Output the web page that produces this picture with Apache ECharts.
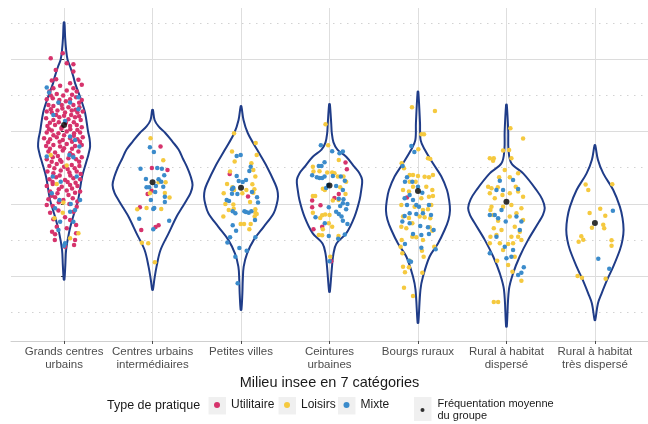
<!DOCTYPE html>
<html><head><meta charset="utf-8">
<script src="https://cdn.jsdelivr.net/npm/echarts@6/dist/echarts.min.js"></script>
<style>html,body{margin:0;padding:0;background:#fff}#c{width:648px;height:424px}</style>
</head><body><div id="c"></div>
<script>
// ---- data ----
const categories = ['Grands centres urbains','Centres urbains intermédiaires','Petites villes','Ceintures urbaines','Bourgs ruraux','Rural à habitat dispersé','Rural à habitat très dispersé'];
const tickLabels = ['Grands centres\nurbains','Centres urbains\nintermédiaires','Petites villes','Ceintures\nurbaines','Bourgs ruraux','Rural à habitat\ndispersé','Rural à habitat\ntrès dispersé'];
const majorY = [1,2,3,4];
const minorY = [0.5,1.5,2.5,3.5,4.5];
const groupMeans = [3.091,2.298,2.223,2.251,2.177,2.029,1.734];

// violin outlines: [value, half width in category units]
const violin_g1 = [[4.51,0.004],[4.30,0.012],[4.13,0.023],[3.99,0.04],[3.90,0.068],[3.76,0.105],[3.67,0.124],[3.44,0.192],[3.26,0.237],[3.00,0.271],[2.90,0.288],[2.79,0.294],[2.68,0.275],[2.57,0.249],[2.37,0.203],[2.05,0.158],[1.82,0.102],[1.60,0.056],[1.36,0.023],[1.15,0.014],[0.95,0.004]];
const violin_g2 = [[3.30,0.004],[3.16,0.023],[3.07,0.068],[2.98,0.144],[2.86,0.225],[2.75,0.294],[2.62,0.345],[2.51,0.389],[2.38,0.43],[2.26,0.452],[2.15,0.43],[2.05,0.384],[1.94,0.33],[1.82,0.271],[1.59,0.181],[1.36,0.090],[1.13,0.045],[0.95,0.02],[0.81,0.004]];
const violin_g3 = [[3.35,0.004],[3.16,0.028],[2.98,0.076],[2.75,0.181],[2.51,0.294],[2.28,0.384],[2.19,0.41],[2.10,0.418],[2.00,0.405],[1.87,0.369],[1.68,0.256],[1.50,0.144],[1.31,0.068],[1.13,0.03],[0.95,0.02],[0.75,0.015],[0.53,0.004]];
const violin_g4 = [[3.38,0.004],[3.10,0.02],[2.98,0.026],[2.85,0.045],[2.75,0.09],[2.65,0.189],[2.51,0.282],[2.42,0.34],[2.33,0.369],[2.20,0.36],[2.05,0.339],[1.82,0.282],[1.59,0.189],[1.45,0.079],[1.31,0.045],[1.13,0.028],[0.78,0.004]];
const violin_g5 = [[3.55,0.004],[3.12,0.023],[2.88,0.03],[2.75,0.076],[2.56,0.169],[2.38,0.263],[2.19,0.328],[2.05,0.352],[1.91,0.362],[1.78,0.345],[1.64,0.302],[1.45,0.226],[1.27,0.132],[0.99,0.056],[0.81,0.028],[0.35,0.004]];
const violin_g6 = [[3.37,0.004],[3.00,0.02],[2.75,0.023],[2.56,0.056],[2.42,0.189],[2.19,0.339],[2.06,0.405],[1.94,0.433],[1.84,0.41],[1.73,0.358],[1.50,0.245],[1.27,0.150],[1.04,0.076],[0.81,0.028],[0.30,0.004]];
const violin_g7 = [[2.81,0.004],[2.61,0.034],[2.42,0.094],[2.19,0.207],[1.96,0.282],[1.80,0.312],[1.64,0.324],[1.50,0.312],[1.36,0.282],[1.13,0.207],[0.95,0.139],[0.76,0.076],[0.62,0.034],[0.39,0.004]];
const violins = [violin_g1,violin_g2,violin_g3,violin_g4,violin_g5,violin_g6,violin_g7];

// jittered observations: [group, jitter, value]
const utilitaire = [
[0,-0.015,4.084],[0,-0.151,4.015],[0,0.030,3.946],[0,0.105,3.932],[0,-0.094,3.853],[0,0.105,3.830],
[0,-0.139,3.705],[0,-0.090,3.724],[0,0.162,3.715],[0,0.068,3.669],[0,-0.121,3.599],[0,-0.045,3.632],[0,0.105,3.599],[0,0.200,3.646],
[0,-0.166,3.553],[0,0.030,3.567],[0,0.143,3.553],[0,-0.083,3.521],[0,-0.196,3.447],[0,-0.128,3.461],[0,-0.053,3.438],[0,0.068,3.447],[0,0.136,3.475],[0,0.200,3.438],
[0,-0.177,3.368],[0,-0.121,3.355],[0,-0.026,3.368],[0,0.049,3.336],[0,0.105,3.368],[0,0.173,3.336],
[0,-0.196,3.276],[0,-0.139,3.262],[0,-0.075,3.290],[0,0.011,3.262],[0,0.087,3.290],[0,0.151,3.262],[0,0.211,3.276],
[0,-0.203,3.184],[0,-0.121,3.161],[0,-0.053,3.198],[0,0.049,3.170],[0,0.124,3.198],[0,0.188,3.161],
[0,-0.188,3.077],[0,-0.102,3.091],[0,-0.026,3.059],[0,0.068,3.077],[0,0.143,3.091],[0,0.200,3.059],
[0,-0.196,2.985],[0,-0.139,3.013],[0,-0.064,2.976],[0,0.030,2.999],[0,0.113,2.976],[0,0.181,2.985],
[0,-0.226,2.907],[0,-0.158,2.893],[0,-0.083,2.921],[0,-0.015,2.884],[0,0.068,2.907],[0,0.151,2.893],[0,0.211,2.921],
[0,-0.203,2.800],[0,-0.121,2.814],[0,-0.045,2.791],[0,0.030,2.828],[0,0.124,2.800],[0,0.200,2.814],
[0,-0.177,2.722],[0,-0.102,2.708],[0,-0.015,2.736],[0,0.068,2.699],[0,0.162,2.722],
[0,-0.196,2.616],[0,-0.128,2.643],[0,-0.045,2.607],[0,0.049,2.630],[0,0.136,2.616],[0,0.200,2.643],
[0,-0.166,2.524],[0,-0.083,2.551],[0,0.000,2.514],[0,0.087,2.537],[0,0.173,2.524],
[0,-0.188,2.445],[0,-0.121,2.422],[0,-0.038,2.459],[0,0.060,2.431],[0,0.143,2.445],[0,0.188,2.413],
[0,-0.166,2.339],[0,-0.090,2.367],[0,0.011,2.330],[0,0.105,2.353],[0,0.181,2.339],
[0,-0.196,2.246],[0,-0.128,2.274],[0,-0.026,2.237],[0,0.068,2.260],[0,0.151,2.246],
[0,-0.158,2.168],[0,-0.075,2.145],[0,0.030,2.182],[0,0.124,2.154],[0,0.181,2.168],
[0,-0.177,2.062],[0,-0.102,2.090],[0,-0.008,2.053],[0,0.098,2.076],
[0,-0.196,1.983],[0,-0.128,1.970],[0,0.060,1.997],[0,0.143,1.960],
[0,-0.158,1.877],[0,-0.064,1.905],[0,0.105,1.891],[0,-0.121,1.785],[0,0.011,1.813],[0,0.068,1.776],
[0,-0.083,1.683],[0,0.030,1.660],[0,0.136,1.706],[0,-0.136,1.614],[0,0.136,1.591],[0,-0.102,1.577],
[0,-0.105,1.499],[0,0.124,1.499],[0,0.011,1.406],[0,0.113,1.429],
[0,-0.150,3.500],[0,-0.010,3.500],[0,0.090,3.510],[0,0.170,3.400],[0,-0.060,3.400],[0,0.020,3.420],[0,-0.150,3.310],[0,-0.020,3.320],[0,0.130,3.300],
[0,-0.090,3.230],[0,0.000,3.220],[0,0.080,3.230],[0,0.170,3.210],[0,-0.160,3.120],[0,-0.060,3.130],[0,0.020,3.120],[0,0.110,3.130],
[0,-0.170,3.030],[0,-0.030,3.040],[0,0.070,3.030],[0,0.150,3.020],[0,-0.120,2.950],[0,0.000,2.950],[0,0.110,2.940],
[0,-0.180,2.850],[0,-0.050,2.860],[0,0.090,2.860],[0,0.180,2.860],[0,-0.160,2.760],[0,0.000,2.770],[0,0.090,2.760],
[0,-0.070,2.660],[0,0.100,2.670],[0,0.170,2.580],[0,-0.140,2.580],[0,-0.030,2.580],[0,0.040,2.480],[0,-0.110,2.490],[0,0.120,2.490],
[0,-0.050,2.390],[0,0.070,2.390],[0,-0.130,2.300],[0,0.040,2.300],[0,0.130,2.290],[0,-0.060,2.200],[0,0.090,2.210],
[0,-0.140,2.110],[0,0.050,2.120],[0,0.150,2.030],[0,-0.060,2.020],
[1,0.090,2.791],[1,-0.008,2.496],[1,0.169,2.468],[1,-0.011,2.181],[1,-0.056,2.136],[1,-0.143,1.951],[1,-0.128,1.637],[1,0.034,1.679],[1,0.068,1.702],
[2,-0.128,2.413],[2,0.079,2.099],
[3,0.181,2.570],[3,0.196,2.477],[3,0.056,2.080],[3,-0.196,2.044],[3,-0.196,1.951],[3,-0.102,1.979],[3,0.105,2.136],[3,-0.083,1.683],[3,-0.181,1.646],[3,0.019,1.203],
[4,-0.124,2.085]
];
const loisirs = [
[0,-0.151,2.676],[0,0.030,2.528],[0,-0.083,2.274],[0,-0.008,2.016],[0,-0.109,1.799],[0,0.068,1.522],[0,0.162,1.591],[0,-0.015,1.877],
[1,-0.023,2.907],[1,0.121,2.602],[1,0.147,2.298],[1,0.068,2.298],[1,0.139,2.150],[1,0.192,2.085],[1,-0.173,1.923],[1,-0.068,1.942],[1,0.098,1.928],[1,-0.121,1.461],[1,-0.049,1.453],[1,0.026,1.190],[1,-0.030,2.145],
[2,-0.079,2.976],[2,0.166,2.842],[2,0.177,2.676],[2,-0.102,2.722],[2,0.117,2.561],[2,-0.072,2.584],[2,0.139,2.468],[2,0.162,2.376],[2,-0.124,2.445],[2,-0.158,2.274],[2,0.128,2.270],
[2,-0.196,2.145],[2,-0.098,2.228],[2,-0.079,2.191],[2,0.015,2.145],[2,0.060,2.191],[2,0.151,2.200],[2,0.139,2.154],[2,-0.177,1.997],[2,-0.087,1.988],[2,0.102,2.025],
[2,-0.139,1.914],[2,-0.083,1.932],[2,0.162,1.923],[2,0.177,1.859],[2,-0.200,1.822],[2,0.154,1.822],[2,-0.004,1.720],[2,0.034,1.720],[2,0.109,1.720],[2,0.094,1.646],[2,0.162,1.877],
[3,-0.045,3.101],[3,-0.015,2.810],[3,0.105,2.607],[3,-0.188,2.514],[3,-0.181,2.445],[3,-0.113,2.450],[3,-0.026,2.431],[3,0.030,2.431],[3,0.056,2.422],[3,0.094,2.376],[3,0.158,2.376],
[3,0.188,2.306],[3,0.121,2.228],[3,-0.075,2.209],[3,-0.053,2.191],[3,0.181,2.136],[3,-0.188,2.108],[3,-0.162,2.108],[3,0.102,2.053],[3,0.038,2.044],[3,-0.188,1.877],
[3,-0.083,1.840],[3,-0.049,1.850],[3,0.000,1.845],[3,-0.105,1.803],[3,-0.008,1.730],[3,0.030,1.683],[3,-0.075,1.646],[3,-0.121,1.568],[3,-0.083,1.564],[3,0.102,1.554],[3,0.008,1.267],
[4,-0.068,3.336],[4,0.192,3.285],[4,0.038,2.962],[4,0.068,2.962],[4,0.004,2.754],[4,0.113,2.630],[4,0.139,2.620],[4,-0.184,2.561],[4,-0.158,2.491],[4,-0.094,2.399],[4,-0.056,2.399],
[4,0.000,2.385],[4,0.075,2.375],[4,0.124,2.367],[4,0.169,2.399],[4,-0.094,2.306],[4,-0.026,2.306],[4,-0.056,2.237],[4,0.094,2.237],[4,0.162,2.191],[4,-0.169,2.191],[4,-0.102,2.168],
[4,0.169,2.108],[4,0.124,2.098],[4,0.038,2.076],[4,-0.188,1.983],[4,-0.038,1.960],[4,0.151,1.983],[4,0.056,1.914],[4,0.113,1.924],[4,-0.169,1.822],[4,-0.102,1.803],[4,0.019,1.822],
[4,0.075,1.813],[4,0.139,1.799],[4,-0.064,1.730],[4,-0.188,1.683],[4,-0.132,1.660],[4,0.132,1.674],[4,0.162,1.628],[4,-0.064,1.544],[4,-0.019,1.535],[4,-0.184,1.499],[4,-0.196,1.406],
[4,0.056,1.499],[4,0.045,1.350],[4,0.184,1.406],[4,-0.177,1.314],[4,0.064,1.267],[4,-0.094,1.212],[4,-0.169,1.129],[4,-0.102,1.120],[4,-0.147,1.051],[4,0.049,1.046],[4,-0.158,0.838],[4,-0.056,0.723],
[5,0.045,3.046],[5,0.188,2.902],[5,-0.188,2.630],[5,-0.143,2.630],[5,-0.151,2.597],[5,-0.038,2.736],[5,0.030,2.745],[5,0.056,2.630],[5,-0.019,2.468],[5,-0.083,2.367],[5,0.038,2.367],
[5,0.132,2.422],[5,-0.207,2.237],[5,-0.169,2.215],[5,-0.098,2.228],[5,0.105,2.237],[5,-0.188,2.145],[5,-0.132,2.076],[5,-0.045,2.122],[5,0.132,2.168],[5,0.038,2.145],[5,0.188,2.098],
[5,-0.169,1.960],[5,-0.038,1.960],[5,0.056,1.983],[5,0.169,1.937],[5,-0.151,1.845],[5,-0.094,1.766],[5,0.038,1.822],[5,0.113,1.868],[5,0.188,1.776],[5,-0.143,1.660],[5,-0.056,1.637],
[5,0.094,1.683],[5,0.151,1.614],[5,-0.181,1.544],[5,-0.113,1.568],[5,0.056,1.544],[5,0.132,1.544],[5,0.169,1.499],[5,-0.188,1.453],[5,-0.075,1.453],[5,0.019,1.443],[5,0.075,1.453],
[5,-0.038,1.360],[5,-0.105,1.212],[5,0.094,1.267],[5,0.019,1.152],[5,0.068,1.060],[5,0.169,0.935],[5,-0.143,0.640],[5,-0.094,0.640],[5,-0.181,1.914],
[6,-0.105,2.265],[6,-0.075,2.191],[6,0.196,2.270],[6,-0.060,1.873],[6,0.060,1.932],[6,0.117,1.835],[6,0.094,1.711],[6,0.105,1.661],[6,-0.034,1.669],[6,-0.154,1.550],[6,-0.132,1.503],
[6,-0.184,1.475],[6,0.188,1.494],[6,0.188,1.420],[6,-0.196,1.000],[6,-0.147,0.977],[6,0.121,0.963]
];
const mixte = [
[0,-0.196,3.608],[0,-0.169,3.539],[0,0.162,3.475],[0,-0.064,3.401],[0,0.068,3.401],[0,-0.121,3.230],[0,0.011,3.147],[0,0.162,3.308],[0,0.068,2.930],[0,0.124,2.884],
[0,0.173,2.791],[0,0.060,2.676],[0,0.105,2.643],[0,-0.128,2.376],[0,-0.038,2.306],[0,0.143,2.376],[0,-0.139,2.145],[0,-0.053,2.053],[0,0.075,1.997],[0,-0.102,1.937],
[0,0.181,2.053],[0,0.068,1.891],[0,-0.045,1.752],[0,0.105,1.752],[0,0.124,1.914],[0,0.011,1.452],[0,-0.064,1.637],[0,-0.196,2.653],[0,0.000,1.420],
[1,-0.030,2.782],[1,0.015,2.717],[1,-0.136,2.486],[1,0.053,2.496],[1,0.105,2.486],[1,0.132,2.394],[1,-0.075,2.343],[1,0.068,2.338],[1,0.098,2.306],[1,-0.068,2.228],[1,-0.038,2.228],
[1,0.038,2.247],[1,0.121,2.237],[1,0.030,2.163],[1,0.139,2.098],[1,-0.019,2.053],[1,0.139,2.025],[1,0.008,1.928],[1,0.019,1.942],[1,-0.151,1.794],[1,0.188,1.766],[1,0.008,1.647],
[2,-0.004,2.676],[2,-0.049,2.662],[2,0.109,2.514],[2,0.094,2.454],[2,-0.049,2.385],[2,-0.026,2.316],[2,0.019,2.302],[2,0.056,2.330],[2,-0.102,2.200],[2,-0.087,2.223],[2,-0.041,2.136],
[2,-0.102,2.140],[2,0.124,2.163],[2,0.181,2.090],[2,0.192,2.016],[2,-0.162,2.053],[2,-0.136,2.039],[2,-0.094,1.896],[2,-0.064,1.868],[2,0.038,1.896],[2,0.056,1.886],[2,0.087,1.877],
[2,0.117,1.896],[2,0.158,1.776],[2,-0.094,1.702],[2,-0.056,1.628],[2,-0.124,1.536],[2,-0.154,1.462],[2,0.162,1.536],[2,-0.019,1.388],[2,0.064,1.351],[2,-0.064,1.267],[2,-0.038,0.899],
[3,-0.098,2.810],[3,0.030,2.727],[3,0.113,2.699],[3,0.151,2.722],[3,-0.056,2.574],[3,-0.121,2.524],[3,-0.090,2.524],[3,-0.196,2.394],[3,-0.143,2.366],[3,-0.113,2.357],[3,-0.083,2.357],
[3,-0.056,2.376],[3,0.038,2.385],[3,0.128,2.376],[3,0.173,2.320],[3,0.075,2.247],[3,-0.038,2.219],[3,-0.015,2.260],[3,0.151,2.191],[3,0.105,2.071],[3,0.158,2.062],[3,0.151,2.007],
[3,0.121,1.970],[3,0.203,1.997],[3,-0.008,1.951],[3,0.188,1.923],[3,0.105,1.859],[3,0.075,1.891],[3,0.136,1.822],[3,0.151,1.766],[3,0.203,1.720],[3,-0.158,1.813],[3,-0.053,1.730],
[3,-0.008,1.554],[3,0.173,1.573],[3,0.098,1.517],[3,0.000,1.203],
[4,-0.075,2.801],[4,-0.041,2.717],[4,-0.173,2.524],[4,-0.124,2.367],[4,-0.147,2.306],[4,-0.064,2.306],[4,0.000,2.237],[4,0.049,2.154],[4,-0.094,2.122],[4,-0.151,2.076],[4,-0.056,2.053],
[4,-0.124,1.983],[4,-0.019,1.983],[4,0.124,1.983],[4,0.011,1.960],[4,-0.151,1.831],[4,-0.094,1.868],[4,-0.019,1.859],[4,0.056,1.868],[4,0.147,1.845],[4,-0.177,1.753],[4,-0.094,1.730],
[4,0.026,1.693],[4,0.113,1.674],[4,0.177,1.637],[4,-0.056,1.582],[4,0.038,1.568],[4,0.124,1.582],[4,-0.147,1.443],[4,0.038,1.392],[4,0.200,1.370],[4,-0.102,1.212],[4,-0.079,1.198],
[5,0.075,2.330],[5,-0.075,2.320],[5,-0.113,2.191],[5,-0.038,2.191],[5,0.132,2.205],[5,-0.188,1.845],[5,-0.132,1.845],[5,-0.056,1.914],[5,-0.094,1.799],[5,-0.008,1.753],[5,0.113,1.822],
[5,0.169,1.753],[5,0.151,1.637],[5,-0.113,1.544],[5,-0.019,1.406],[5,0.075,1.360],[5,-0.188,1.314],[5,0.000,1.245],[5,0.196,1.120],[5,0.169,1.046],[5,0.132,1.014],[5,0.056,1.267],
[6,0.203,1.904],[6,0.038,1.240],[6,0.162,1.101]
];

// ---- chart ----
const chart = echarts.init(document.getElementById('c'), null, {renderer:'canvas'});
const FONT = '"Liberation Sans", Arial, sans-serif';
const catIdx = categories.map((c,i)=>i);
const toXY = arr => arr.map(p => [p[0] + p[1], p[2]]);
const keyBg = '#f0f0f0';

const option = {
  animation: false,
  backgroundColor: '#ffffff',
  textStyle: {fontFamily: FONT},
  grid: {left: 11, right: 0, top: 8, bottom: 83, containLabel: false},
  xAxis: {
    type: 'value', min: -0.6, max: 6.6,
    axisLine: {show: true, lineStyle: {color: '#cfcfcf', width: 1}},
    axisTick: {show: true, customValues: catIdx, length: 3, lineStyle: {color: '#4d4d4d'}},
    axisLabel: {show: true, customValues: catIdx, formatter: v => tickLabels[Math.round(v)] || '',
      color: '#4d4d4d', fontSize: 11.5, lineHeight: 13, margin: 4, fontFamily: FONT},
    splitLine: {show: false},
    name: 'Milieu insee en 7 catégories', nameLocation: 'middle', nameGap: 33,
    nameTextStyle: {color: '#1a1a1a', fontSize: 14.5, fontFamily: FONT}
  },
  yAxis: {
    type: 'value', min: 0.1, max: 4.71,
    axisLine: {show: false},
    axisTick: {show: true, customValues: majorY, length: 3, lineStyle: {color: '#333'}},
    axisLabel: {show: false},
    splitLine: {show: false}
  },
  legend: [
    {data: ['Utilitaire'], left: 214, top: 399},
    {data: ['Loisirs'], left: 284, top: 399},
    {data: ['Mixte'], left: 343.5, top: 399}
  ].map(l => Object.assign(l, {icon: 'circle', itemWidth: 6, itemHeight: 6, padding: 0,
      selectedMode: false, textStyle: {fontSize: 12, color: '#1a1a1a', fontFamily: FONT, padding: [0,0,0,6]}}))
    .concat([{data: ['Fréquentation moyenne du groupe'], left: 420.5, top: 398, icon: 'circle', itemWidth: 4, itemHeight: 4,
      padding: 0, selectedMode: false, formatter: () => 'Fréquentation moyenne\ndu groupe',
      textStyle: {fontSize: 11, lineHeight: 12, color: '#1a1a1a', fontFamily: FONT, padding: [0,0,0,8]}}]),
  graphic: [
    {type: 'rect', shape: {x: 208.5, y: 397, width: 17.5, height: 17.5}, style: {fill: keyBg}, z: -1},
    {type: 'rect', shape: {x: 278.5, y: 397, width: 17.5, height: 17.5}, style: {fill: keyBg}, z: -1},
    {type: 'rect', shape: {x: 338, y: 397, width: 17.5, height: 17.5}, style: {fill: keyBg}, z: -1},
    {type: 'rect', shape: {x: 414, y: 397, width: 17.5, height: 24}, style: {fill: keyBg}, z: -1},
    {type: 'text', left: 107, top: 399, style: {text: 'Type de pratique', fontSize: 12.5, fill: '#1a1a1a', fontFamily: FONT}}
  ],
  series: [
    {
      type: 'line', data: [], silent: true, z: 0,
      markLine: {
        silent: true, symbol: 'none', animation: false, label: {show: false}, z: 0,
        emphasis: {disabled: true},
        data: [].concat(
          majorY.map(v => ({yAxis: v, lineStyle: {color: '#dcdcdc', width: 1, type: 'solid'}})),
          minorY.map(v => ({yAxis: v, lineStyle: {color: '#d2d2d2', width: 1, type: [1.5, 5.5]}})),
          catIdx.map(i => ({xAxis: i, lineStyle: {color: '#dedede', width: 1, type: 'solid'}}))
        )
      }
    },
    {
      type: 'custom', name: 'violin', silent: true, z: 2,
      data: catIdx.map(i => [i]),
      renderItem: function (params, api) {
        const i = api.value(0);
        const prof = violins[i];
        const right = prof.map(p => api.coord([i + p[1], p[0]]));
        const left = prof.slice().reverse().map(p => api.coord([i - p[1], p[0]]));
        return {type: 'polygon', shape: {points: right.concat(left), smooth: 0.35},
          style: {fill: 'none', stroke: '#1f3c88', lineWidth: 2}};
      }
    },
    {type: 'scatter', name: 'Utilitaire', data: toXY(utilitaire), symbol: 'circle', symbolSize: 4.5, z: 3,
      itemStyle: {color: '#d6336c', opacity: 1}},
    {type: 'scatter', name: 'Loisirs', data: toXY(loisirs), symbol: 'circle', symbolSize: 4.5, z: 3,
      itemStyle: {color: '#f5c93f', opacity: 1}},
    {type: 'scatter', name: 'Mixte', data: toXY(mixte), symbol: 'circle', symbolSize: 4.5, z: 3,
      itemStyle: {color: '#3b8bcb', opacity: 1}},
    {type: 'scatter', name: 'Fréquentation moyenne du groupe', data: groupMeans.map((v, i) => [i, v]),
      symbol: 'circle', symbolSize: 6, z: 5, itemStyle: {color: '#000000'}}
  ]
};
chart.setOption(option);
</script>
</body></html>
